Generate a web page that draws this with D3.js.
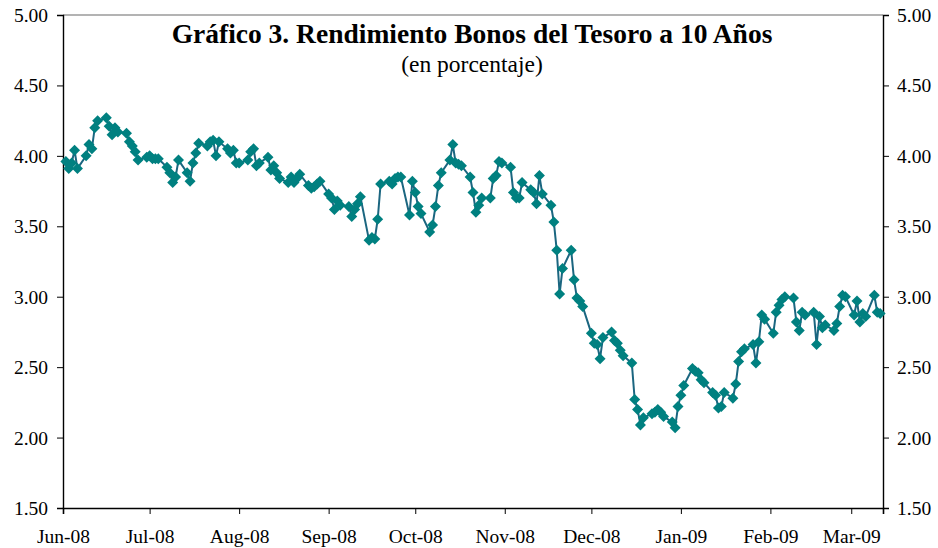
<!DOCTYPE html>
<html>
<head>
<meta charset="utf-8">
<script src="https://cdn.jsdelivr.net/npm/d3@7"></script>
<style>
  body { margin: 0; background: #fff; }
  svg text { font-family: "Liberation Serif", "Times New Roman", serif; fill: #000; }
</style>
</head>
<body>
<div id="chart"></div>
<script>
// Daily yields (business days) per month
var jun08 = [3.96, 3.91, 3.95, 4.04, 3.91, 4.00, 4.08, 4.05, 4.20, 4.25, 4.27, 4.21, 4.15, 4.20, 4.17, 4.16, 4.10, 4.07, 4.03, 3.97, 3.99];
var jul08 = [4.00, 3.98, 3.98, 3.98, 3.92, 3.88, 3.81, 3.85, 3.97, 3.88, 3.82, 3.95, 4.02, 4.09, 4.07, 4.10, 4.11, 4.00, 4.10, 4.05, 4.02, 4.04, 3.95];
var aug08 = [3.95, 3.97, 4.03, 4.05, 3.93, 3.95, 3.99, 3.90, 3.93, 3.88, 3.84, 3.81, 3.85, 3.81, 3.84, 3.87, 3.79, 3.77, 3.78, 3.80, 3.82];
var sep08 = [3.73, 3.70, 3.62, 3.68, 3.65, 3.64, 3.57, 3.62, 3.66, 3.71, 3.40, 3.42, 3.41, 3.55, 3.80, 3.82, 3.80, 3.84, 3.85, 3.85, 3.58, 3.82];
var oct08 = [3.74, 3.64, 3.59, 3.46, 3.51, 3.64, 3.79, 3.88, 3.97, 4.08, 3.95, 3.94, 3.93, 3.85, 3.74, 3.60, 3.65, 3.70, 3.70, 3.84, 3.86, 3.96, 3.95];
var nov08 = [3.92, 3.74, 3.70, 3.70, 3.81, 3.76, 3.74, 3.66, 3.86, 3.73, 3.65, 3.53, 3.33, 3.02, 3.20, 3.33, 3.12, 2.99, 2.97, 2.93];
var dec08 = [2.74, 2.67, 2.66, 2.56, 2.71, 2.75, 2.69, 2.67, 2.62, 2.58, 2.53, 2.27, 2.20, 2.09, 2.14, 2.17, 2.18, 2.20, 2.18, 2.15, 2.11, 2.07, 2.22];
var jan09 = [2.30, 2.37, 2.49, 2.47, 2.46, 2.41, 2.39, 2.32, 2.30, 2.21, 2.22, 2.32, 2.28, 2.38, 2.54, 2.61, 2.63, 2.66, 2.53, 2.68, 2.87, 2.84];
var feb09 = [2.74, 2.89, 2.94, 2.98, 3.00, 2.99, 2.82, 2.76, 2.89, 2.87, 2.89, 2.66, 2.86, 2.78, 2.80, 2.76, 2.81, 2.93, 3.01, 3.00];
var mar09 = [2.87, 2.97, 2.82, 2.88, 2.86, 3.01, 2.89, 2.88];

var monthStarts = ["2008-06-01", "2008-07-01", "2008-08-01", "2008-09-01", "2008-10-01",
                   "2008-11-01", "2008-12-01", "2009-01-01", "2009-02-01", "2009-03-01"];
var monthValues = [jun08, jul08, aug08, sep08, oct08, nov08, dec08, jan09, feb09, mar09];
var tickLabels = ["Jun-08", "Jul-08", "Aug-08", "Sep-08", "Oct-08", "Nov-08", "Dec-08", "Jan-09", "Feb-09", "Mar-09"];
var yTicks = [1.5, 2.0, 2.5, 3.0, 3.5, 4.0, 4.5, 5.0];

var title = "Gráfico 3. Rendimiento Bonos del Tesoro a 10 Años";
var subtitle = "(en porcentaje)";

var parse = d3.timeParse("%Y-%m-%d");

// Put each month's values on its weekdays
var data = [];
monthStarts.forEach(function (s, i) {
    var day = parse(s);
    var vals = monthValues[i];
    var k = 0;
    while (k < vals.length) {
        var wd = day.getDay();
        if (wd !== 0 && wd !== 6) {
            data.push({ date: new Date(day), value: vals[k] });
            k++;
        }
        day = d3.timeDay.offset(day, 1);
    }
});

var w = 938, h = 548;
var margin = { top: 15, right: 55, bottom: 40, left: 63 };

var svg = d3.select("#chart").append("svg")
    .attr("width", w)
    .attr("height", h);

var x = d3.scaleTime()
    .domain([parse("2008-06-01"), parse("2009-03-12")])
    .range([margin.left, w - margin.right]);

var y = d3.scaleLinear()
    .domain([1.5, 5.0])
    .range([h - margin.bottom, margin.top]);

var tickDates = monthStarts.map(parse);

// Top border of the plot area
svg.append("line")
    .attr("x1", margin.left).attr("x2", w - margin.right)
    .attr("y1", margin.top).attr("y2", margin.top)
    .attr("stroke", "#9a9a9a")
    .attr("stroke-width", 1.5);

// Left axis
svg.append("g")
    .attr("transform", "translate(" + margin.left + ",0)")
    .call(d3.axisLeft(y).tickValues(yTicks).tickFormat(d3.format(".2f")).tickSizeOuter(0).tickSize(6).tickPadding(9))
    .call(function (g) {
        g.selectAll("text").style("font-size", "19.5px").attr("dy", "0.33em");
        g.select(".domain").attr("stroke", "#000").attr("stroke-width", 1.4);
        g.selectAll(".tick line").attr("stroke", "#000");
    });

// Right axis
svg.append("g")
    .attr("transform", "translate(" + (w - margin.right) + ",0)")
    .call(d3.axisRight(y).tickValues(yTicks).tickFormat(d3.format(".2f")).tickSizeOuter(0).tickSize(6).tickPadding(8))
    .call(function (g) {
        g.selectAll("text").style("font-size", "19.5px").attr("dy", "0.33em");
        g.select(".domain").attr("stroke", "#000").attr("stroke-width", 1.4);
        g.selectAll(".tick line").attr("stroke", "#000");
    });

// Bottom axis
svg.append("g")
    .attr("transform", "translate(0," + (h - margin.bottom) + ")")
    .call(d3.axisBottom(x).tickValues(tickDates).tickFormat(function (d, i) { return tickLabels[i]; })
        .tickSizeOuter(0).tickSize(6).tickPadding(15))
    .call(function (g) {
        g.selectAll("text").style("font-size", "19.5px");
        g.select(".domain").attr("stroke", "#000").attr("stroke-width", 1.6);
        g.selectAll(".tick line").attr("stroke", "#000");
    });

// Line
var line = d3.line()
    .x(function (d) { return x(d.date); })
    .y(function (d) { return y(d.value); });

svg.append("path")
    .datum(data)
    .attr("fill", "none")
    .attr("stroke", "#1b6680")
    .attr("stroke-width", 2)
    .attr("d", line);

// Diamond markers
svg.append("g")
    .selectAll("path")
    .data(data)
    .enter().append("path")
    .attr("d", "M0,-5.5L5.5,0L0,5.5L-5.5,0Z")
    .attr("transform", function (d) { return "translate(" + x(d.date) + "," + y(d.value) + ")"; })
    .attr("fill", "#008080");

// Titles
svg.append("text")
    .attr("x", 472)
    .attr("y", 43)
    .attr("text-anchor", "middle")
    .style("font-size", "27.5px")
    .style("font-weight", "bold")
    .text(title);

svg.append("text")
    .attr("x", 472)
    .attr("y", 72)
    .attr("text-anchor", "middle")
    .style("font-size", "23.5px")
    .text(subtitle);
</script>
</body>
</html>
